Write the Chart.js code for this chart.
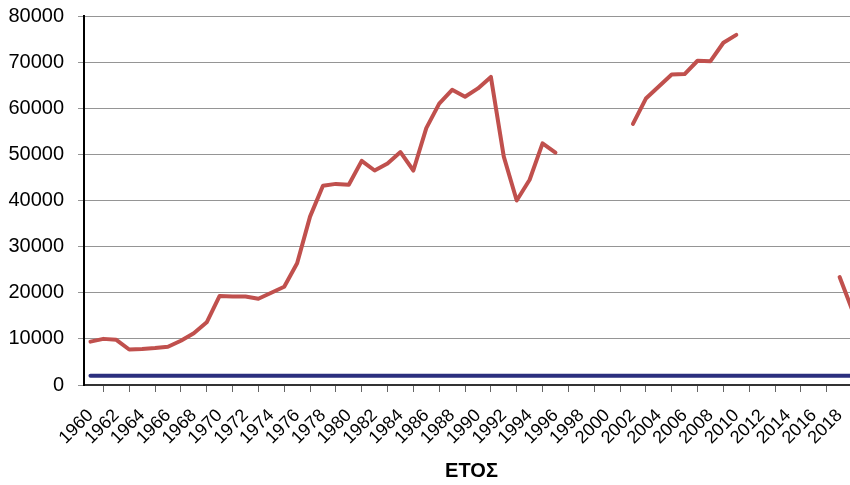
<!DOCTYPE html>
<html>
<head>
<meta charset="utf-8">
<script src="https://cdn.jsdelivr.net/npm/chart.js@4.4.1/dist/chart.umd.min.js"></script>
<style>
    html, body { margin: 0; padding: 0; background: #ffffff; overflow: hidden; }
    #wrap { width: 859px; height: 485px; }
</style>
</head>
<body>
<div id="wrap"><canvas id="yearChart"></canvas></div>
<script>
    // έτη (κατηγορίες)
    const years = [
        '1960', '1961', '1962', '1963', '1964', '1965', '1966', '1967', '1968', '1969',
        '1970', '1971', '1972', '1973', '1974', '1975', '1976', '1977', '1978', '1979',
        '1980', '1981', '1982', '1983', '1984', '1985', '1986', '1987', '1988', '1989',
        '1990', '1991', '1992', '1993', '1994', '1995', '1996', '1997', '1998', '1999',
        '2000', '2001', '2002', '2003', '2004', '2005', '2006', '2007', '2008', '2009',
        '2010', '2011', '2012', '2013', '2014', '2015', '2016', '2017', '2018', '2019'
    ];

    // κόκκινη σειρά, null = κενό στη γραμμή
    const redValues = [
        9400, 10000, 9800, 7700, 7800, 8000, 8300, 9600, 11200, 13600,
        19300, 19200, 19200, 18700, 20000, 21300, 26400, 36500, 43200, 43600,
        43400, 48600, 46500, 48000, 50500, 46500, 55700, 61000, 64000, 62500,
        64300, 66800, 49500, 40000, 44500, 52400, 50400, null, null, null,
        null, null, 56600, 62100, 64700, 67300, 67400, 70300, 70200, 74200,
        75900, null, null, null, null, null, null, null, 23400, 16100
    ];

    // μπλε σειρά (σταθερή)
    const blueValues = [
        2000, 2000, 2000, 2000, 2000, 2000, 2000, 2000, 2000, 2000,
        2000, 2000, 2000, 2000, 2000, 2000, 2000, 2000, 2000, 2000,
        2000, 2000, 2000, 2000, 2000, 2000, 2000, 2000, 2000, 2000,
        2000, 2000, 2000, 2000, 2000, 2000, 2000, 2000, 2000, 2000,
        2000, 2000, 2000, 2000, 2000, 2000, 2000, 2000, 2000, 2000,
        2000, 2000, 2000, 2000, 2000, 2000, 2000, 2000, 2000, 2000
    ];

    const yTicks = [0, 10000, 20000, 30000, 40000, 50000, 60000, 70000, 80000];

    const ctx = document.getElementById('yearChart').getContext('2d');

    new Chart(ctx, {
        type: 'line',
        data: {
            labels: years,
            datasets: [{
                label: 'red',
                data: redValues,
                borderColor: '#C0504D',
                borderWidth: 4,
                borderCapStyle: 'round',
                borderJoinStyle: 'round',
                pointRadius: 0,
                fill: false,
                tension: 0,
                spanGaps: false
            }, {
                label: 'blue',
                data: blueValues,
                borderColor: '#2B2F7E',
                borderWidth: 4,
                borderCapStyle: 'round',
                pointRadius: 0,
                fill: false,
                tension: 0
            }]
        },
        options: {
            responsive: true,
            maintainAspectRatio: false,
            animation: false,
            layout: {
                padding: { top: 16, right: 0, bottom: 0, left: 0 }
            },
            plugins: {
                legend: { display: false },
                tooltip: { enabled: false }
            },
            scales: {
                x: {
                    offset: true,
                    afterFit: function (scale) {
                        scale.height = 100;
                        scale.paddingLeft = 0;
                        scale.paddingRight = 0;
                    },
                    grid: {
                        offset: true,
                        drawOnChartArea: false,
                        drawTicks: true,
                        tickLength: 7,
                        color: '#666666'
                    },
                    border: { color: '#333333', width: 2 },
                    ticks: {
                        autoSkip: false,
                        maxRotation: 45,
                        minRotation: 45,
                        padding: 13,
                        color: '#000000',
                        font: { family: '"Liberation Sans", Arial, sans-serif', size: 18 },
                        callback: function (value, index) {
                            // ετικέτα κάθε δεύτερο έτος
                            return index % 2 === 0 ? this.getLabelForValue(value) : null;
                        }
                    },
                    title: {
                        display: true,
                        text: 'ΕΤΟΣ',
                        color: '#000000',
                        font: { family: '"Liberation Sans", Arial, sans-serif', size: 20, weight: 'bold' },
                        padding: { top: 0, bottom: 2 }
                    }
                },
                y: {
                    min: 0,
                    max: 80000,
                    afterFit: function (scale) {
                        scale.width = 84;
                        scale.paddingTop = 0;
                        scale.paddingBottom = 0;
                    },
                    afterBuildTicks: function (scale) {
                        scale.ticks = yTicks.map(v => ({ value: v }));
                    },
                    grid: {
                        color: '#959595',
                        lineWidth: 1,
                        drawTicks: true,
                        tickLength: 6
                    },
                    border: { color: '#000000', width: 2 },
                    ticks: {
                        padding: 14,
                        color: '#000000',
                        font: { family: '"Liberation Sans", Arial, sans-serif', size: 20 },
                        callback: function (value) {
                            return String(value); // χωρίς διαχωριστικό χιλιάδων
                        }
                    }
                }
            }
        }
    });
</script>
</body>
</html>
